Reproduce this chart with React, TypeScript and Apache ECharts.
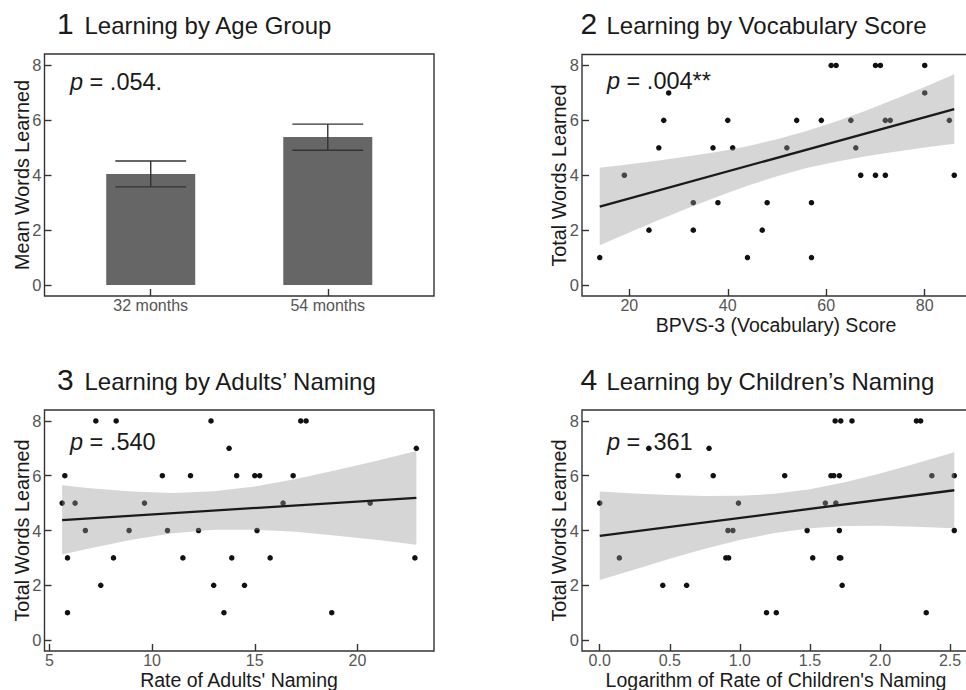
import React, { useEffect, useRef } from "react";
import * as echarts from "echarts";

const FONT = "'Liberation Sans', Arial, Helvetica, sans-serif";

// ---- Panel 1: Learning by Age Group ----
const ageGroups = ["32 months", "54 months"];
const meanWordsLearned = [4.04, 5.38];
const meanWordsLow = [3.57, 4.9];
const meanWordsHigh = [4.51, 5.85];

// ---- Panel 2: Learning by Vocabulary Score ----
const vocabScore = [14, 19, 24, 26, 27, 28, 33, 33, 37, 38, 40, 41, 44, 47, 48, 52, 54, 57, 57, 59, 61, 62, 65, 66, 67, 70, 71, 70, 72, 72, 73, 80, 80, 85, 86];
const vocabWords = [1, 4, 2, 5, 6, 7, 3, 2, 5, 3, 6, 5, 1, 2, 3, 5, 6, 3, 1, 6, 8, 8, 6, 5, 4, 8, 8, 4, 6, 4, 6, 8, 7, 6, 4];
const vocabFitX = [14, 86];
const vocabFitY = [2.86, 6.41];
const vocabBandX = [14, 20, 26, 32, 38, 44, 50, 56, 62, 68, 74, 80, 86];
const vocabBandLow = [1.45, 1.91, 2.37, 2.81, 3.23, 3.62, 3.96, 4.26, 4.49, 4.69, 4.86, 5.01, 5.15];
const vocabBandHigh = [4.27, 4.4, 4.54, 4.69, 4.86, 5.06, 5.31, 5.61, 5.96, 6.35, 6.78, 7.22, 7.68];

// ---- Panel 3: Learning by Adults' Naming ----
const adultRate = [5.62, 5.75, 5.88, 5.88, 6.25, 6.75, 7.26, 7.5, 8.12, 8.25, 8.88, 9.63, 10.5, 10.75, 11.5, 11.87, 12.26, 12.87, 13.0, 13.5, 13.75, 13.88, 14.12, 14.5, 15.0, 15.24, 15.11, 15.75, 16.38, 16.87, 17.24, 17.5, 18.75, 20.62, 22.8, 22.87];
const adultWords = [5, 6, 3, 1, 5, 4, 8, 2, 3, 8, 4, 5, 6, 4, 3, 6, 4, 8, 2, 1, 7, 3, 6, 2, 6, 6, 4, 3, 5, 6, 8, 8, 1, 5, 3, 7];
const adultFitX = [5.62, 22.87];
const adultFitY = [4.38, 5.19];
const adultBandX = [5.62, 7, 9, 11, 13, 15, 17, 19, 21, 22.87];
const adultBandLow = [3.12, 3.35, 3.66, 3.9, 4.03, 4.03, 3.95, 3.81, 3.65, 3.48];
const adultBandHigh = [5.65, 5.54, 5.42, 5.37, 5.43, 5.61, 5.88, 6.21, 6.56, 6.9];

// ---- Panel 4: Learning by Children's Naming ----
const childLogRate = [0, 0.14, 0.35, 0.45, 0.56, 0.62, 0.78, 0.81, 0.9, 0.92, 0.915, 0.95, 0.99, 1.19, 1.26, 1.32, 1.48, 1.52, 1.61, 1.65, 1.67, 1.685, 1.68, 1.71, 1.71, 1.71, 1.72, 1.72, 1.73, 1.8, 2.26, 2.29, 2.33, 2.37, 2.53, 2.53];
const childWords = [5, 3, 7, 2, 6, 2, 7, 6, 3, 3, 4, 4, 5, 1, 1, 6, 4, 3, 5, 6, 6, 5, 8, 6, 4, 3, 3, 8, 2, 8, 8, 8, 1, 6, 6, 4];
const childFitX = [0, 2.53];
const childFitY = [3.8, 5.47];
const childBandX = [0, 0.25, 0.5, 0.75, 1, 1.25, 1.5, 1.75, 2, 2.25, 2.53];
const childBandLow = [2.19, 2.58, 2.97, 3.33, 3.65, 3.91, 4.08, 4.16, 4.17, 4.14, 4.08];
const childBandHigh = [5.42, 5.35, 5.3, 5.26, 5.27, 5.34, 5.51, 5.76, 6.08, 6.44, 6.86];

// ---- Tick labels ----
const yTicks = [0, 2, 4, 6, 8];
const ageTicks = [1, 2];
const vocabTicks = [20, 40, 60, 80];
const adultTicks = [5, 10, 15, 20];
const childTicks = [0, 0.5, 1, 1.5, 2, 2.5];

const titles = [
  { num: "1", text: "Learning by Age Group" },
  { num: "2", text: "Learning by Vocabulary Score" },
  { num: "3", text: "Learning by Adults\u2019 Naming" },
  { num: "4", text: "Learning by Children\u2019s Naming" },
];
const pValues = [".054.", ".004**", ".540", ".361"];
const yTitles = ["Mean Words Learned", "Total Words Learned", "Total Words Learned", "Total Words Learned"];
const xTitles = ["", "BPVS-3 (Vocabulary) Score", "Rate of Adults' Naming", "Logarithm of Rate of Children's Naming"];

const TICK_COLOR = "#333";
const LABEL_COLOR = "#555";
const TEXT_COLOR = "#1a1a1a";
const TICK_FS = 16;

function xAxis(gridIndex: number, min: number, max: number, ticks: number[], fmt: (v: number) => string) {
  return {
    type: "value",
    gridIndex,
    min,
    max,
    position: "bottom",
    axisLine: { show: false, onZero: false },
    splitLine: { show: false },
    axisTick: { show: true, inside: true, length: 7, customValues: ticks, lineStyle: { color: TICK_COLOR, width: 1.4 } },
    axisLabel: { customValues: ticks, formatter: fmt, color: LABEL_COLOR, fontSize: TICK_FS, lineHeight: 15, fontFamily: FONT, margin: 1.5 },
  };
}

function yAxis(gridIndex: number) {
  return {
    type: "value",
    gridIndex,
    min: -0.4,
    max: 8.4,
    position: "left",
    axisLine: { show: false, onZero: false },
    splitLine: { show: false },
    axisTick: { show: true, inside: true, length: 7, customValues: yTicks, lineStyle: { color: TICK_COLOR, width: 1.4 } },
    axisLabel: { customValues: yTicks, formatter: (v: number) => String(v), color: LABEL_COLOR, fontSize: 16.5, lineHeight: 15, fontFamily: FONT, margin: 3 },
  };
}

function text(x: number, y: number, s: string, fontSize: number, extra: any = {}) {
  return {
    type: "text",
    x,
    y,
    rotation: extra.rotation || 0,
    silent: true,
    style: {
      text: s,
      fontSize,
      lineHeight: extra.lineHeight || fontSize,
      fontFamily: FONT,
      fontStyle: extra.fontStyle || "normal",
      fill: extra.fill || TEXT_COLOR,
      align: extra.align || "left",
      verticalAlign: "middle",
    },
  };
}

function bandSeries(idx: number, bx: number[], lo: number[], hi: number[]) {
  return {
    type: "custom",
    xAxisIndex: idx,
    yAxisIndex: idx,
    z: 3,
    silent: true,
    data: [[bx[0], lo[0]]],
    renderItem: (_params: any, api: any) => {
      const pts: number[][] = [];
      for (let i = 0; i < bx.length; i++) pts.push(api.coord([bx[i], hi[i]]));
      for (let i = bx.length - 1; i >= 0; i--) pts.push(api.coord([bx[i], lo[i]]));
      return { type: "polygon", shape: { points: pts }, style: { fill: "rgba(153,153,153,0.4)" } };
    },
  };
}

function scatterSeries(idx: number, xs: number[], ys: number[]) {
  return {
    type: "scatter",
    xAxisIndex: idx,
    yAxisIndex: idx,
    z: 2,
    symbolSize: 5.5,
    itemStyle: { color: "#111", opacity: 1 },
    data: xs.map((x, i) => [x, ys[i]]),
  };
}

function fitSeries(idx: number, xs: number[], ys: number[]) {
  return {
    type: "line",
    xAxisIndex: idx,
    yAxisIndex: idx,
    z: 4,
    symbol: "none",
    lineStyle: { color: "#1a1a1a", width: 2.3 },
    data: xs.map((x, i) => [x, ys[i]]),
  };
}

export default function App() {
  const ref = useRef<HTMLDivElement>(null);
  useEffect(() => {
    if (!ref.current) return;
    const chart = echarts.init(ref.current, undefined, { renderer: "svg" });
    const gridBase = { show: true, borderColor: "#333", borderWidth: 1.4, backgroundColor: "transparent", containLabel: false, outerBoundsMode: "none" };
    const grids = [
      { left: 44.5, top: 54, width: 389.5, height: 242 },
      { left: 582, top: 54.5, width: 390, height: 241.5 },
      { left: 44.5, top: 410, width: 389.5, height: 241 },
      { left: 582, top: 410, width: 390, height: 241 },
    ].map((g) => ({ ...g, ...gridBase }));

    const TITLE_FS = 24;
    const NUM_FS = 30;
    const P_FS = 23.5;
    const AXT_FS = 19.5;

    const graphic: any[] = [];
    const titlePos = [
      { nx: 57, tx: 84.5, y: 34.3 },
      { nx: 580.5, tx: 606.5, y: 34.3 },
      { nx: 57, tx: 84.5, y: 390.3 },
      { nx: 580.5, tx: 606.5, y: 390.3 },
    ];
    titles.forEach((t, i) => {
      const p = titlePos[i];
      graphic.push(text(p.nx, p.y - 0.3465 * NUM_FS, t.num, NUM_FS));
      graphic.push(text(p.tx, p.y - 0.3465 * TITLE_FS, t.text, TITLE_FS));
    });
    const pPos = [
      { x: 70, y: 90 },
      { x: 607, y: 89.3 },
      { x: 70, y: 450 },
      { x: 607, y: 450 },
    ];
    pValues.forEach((v, i) => {
      const p = pPos[i];
      const yc = p.y - 0.3465 * P_FS;
      graphic.push(text(p.x, yc, "p", P_FS, { fontStyle: "italic" }));
      graphic.push(text(p.x + 0.556 * P_FS, yc, " = " + v, P_FS));
    });
    const yTitlePos = [
      { x: 21.5, y: 175 },
      { x: 559, y: 175.5 },
      { x: 22, y: 530.5 },
      { x: 559, y: 530.5 },
    ];
    yTitles.forEach((s, i) => {
      graphic.push(text(yTitlePos[i].x, yTitlePos[i].y, s, 19.8, { rotation: Math.PI / 2, align: "center" }));
    });
    const xTitlePos = [null, { x: 776, y: 324.5 }, { x: 239, y: 679.5 }, { x: 776, y: 679.5 }];
    xTitles.forEach((s, i) => {
      const p = xTitlePos[i];
      if (p && s) graphic.push(text(p.x, p.y, s, AXT_FS, { align: "center" }));
    });

    const option: any = {
      animation: false,
      backgroundColor: "#ffffff",
      grid: grids,
      xAxis: [
        xAxis(0, 0.4, 2.6, ageTicks, (v: number) => ageGroups[Math.round(v) - 1] || ""),
        xAxis(1, 10.4, 89.6, vocabTicks, (v: number) => String(v)),
        xAxis(2, 4.76, 23.73, adultTicks, (v: number) => String(v)),
        xAxis(3, -0.1265, 2.6565, childTicks, (v: number) => v.toFixed(1)),
      ],
      yAxis: [yAxis(0), yAxis(1), yAxis(2), yAxis(3)],
      series: [
        {
          type: "bar",
          xAxisIndex: 0,
          yAxisIndex: 0,
          barWidth: 89,
          z: 2,
          itemStyle: { color: "#666666" },
          data: meanWordsLearned.map((v, i) => [ageTicks[i], v]),
        },
        {
          type: "custom",
          xAxisIndex: 0,
          yAxisIndex: 0,
          z: 5,
          silent: true,
          encode: { x: 0, y: [1, 2] },
          data: ageTicks.map((x, i) => [x, meanWordsLow[i], meanWordsHigh[i]]),
          renderItem: (_params: any, api: any) => {
            const x = api.value(0);
            const lo = api.value(1);
            const hi = api.value(2);
            const pLo = api.coord([x, lo]);
            const pHi = api.coord([x, hi]);
            const cL = api.coord([x - 0.2, hi]);
            const cR = api.coord([x + 0.2, hi]);
            const dL = api.coord([x - 0.2, lo]);
            const dR = api.coord([x + 0.2, lo]);
            const st = { stroke: "#333", lineWidth: 1.4 };
            return {
              type: "group",
              children: [
                { type: "line", shape: { x1: pLo[0], y1: pLo[1], x2: pHi[0], y2: pHi[1] }, style: st },
                { type: "line", shape: { x1: cL[0], y1: cL[1], x2: cR[0], y2: cR[1] }, style: st },
                { type: "line", shape: { x1: dL[0], y1: dL[1], x2: dR[0], y2: dR[1] }, style: st },
              ],
            };
          },
        },
        scatterSeries(1, vocabScore, vocabWords),
        bandSeries(1, vocabBandX, vocabBandLow, vocabBandHigh),
        fitSeries(1, vocabFitX, vocabFitY),
        scatterSeries(2, adultRate, adultWords),
        bandSeries(2, adultBandX, adultBandLow, adultBandHigh),
        fitSeries(2, adultFitX, adultFitY),
        scatterSeries(3, childLogRate, childWords),
        bandSeries(3, childBandX, childBandLow, childBandHigh),
        fitSeries(3, childFitX, childFitY),
      ],
      graphic,
    };
    chart.setOption(option);
    return () => chart.dispose();
  }, []);
  return (
    <div
      ref={ref}
      style={{ position: "absolute", left: 0, top: 0, width: 966, height: 690, background: "#fff" }}
    />
  );
}
